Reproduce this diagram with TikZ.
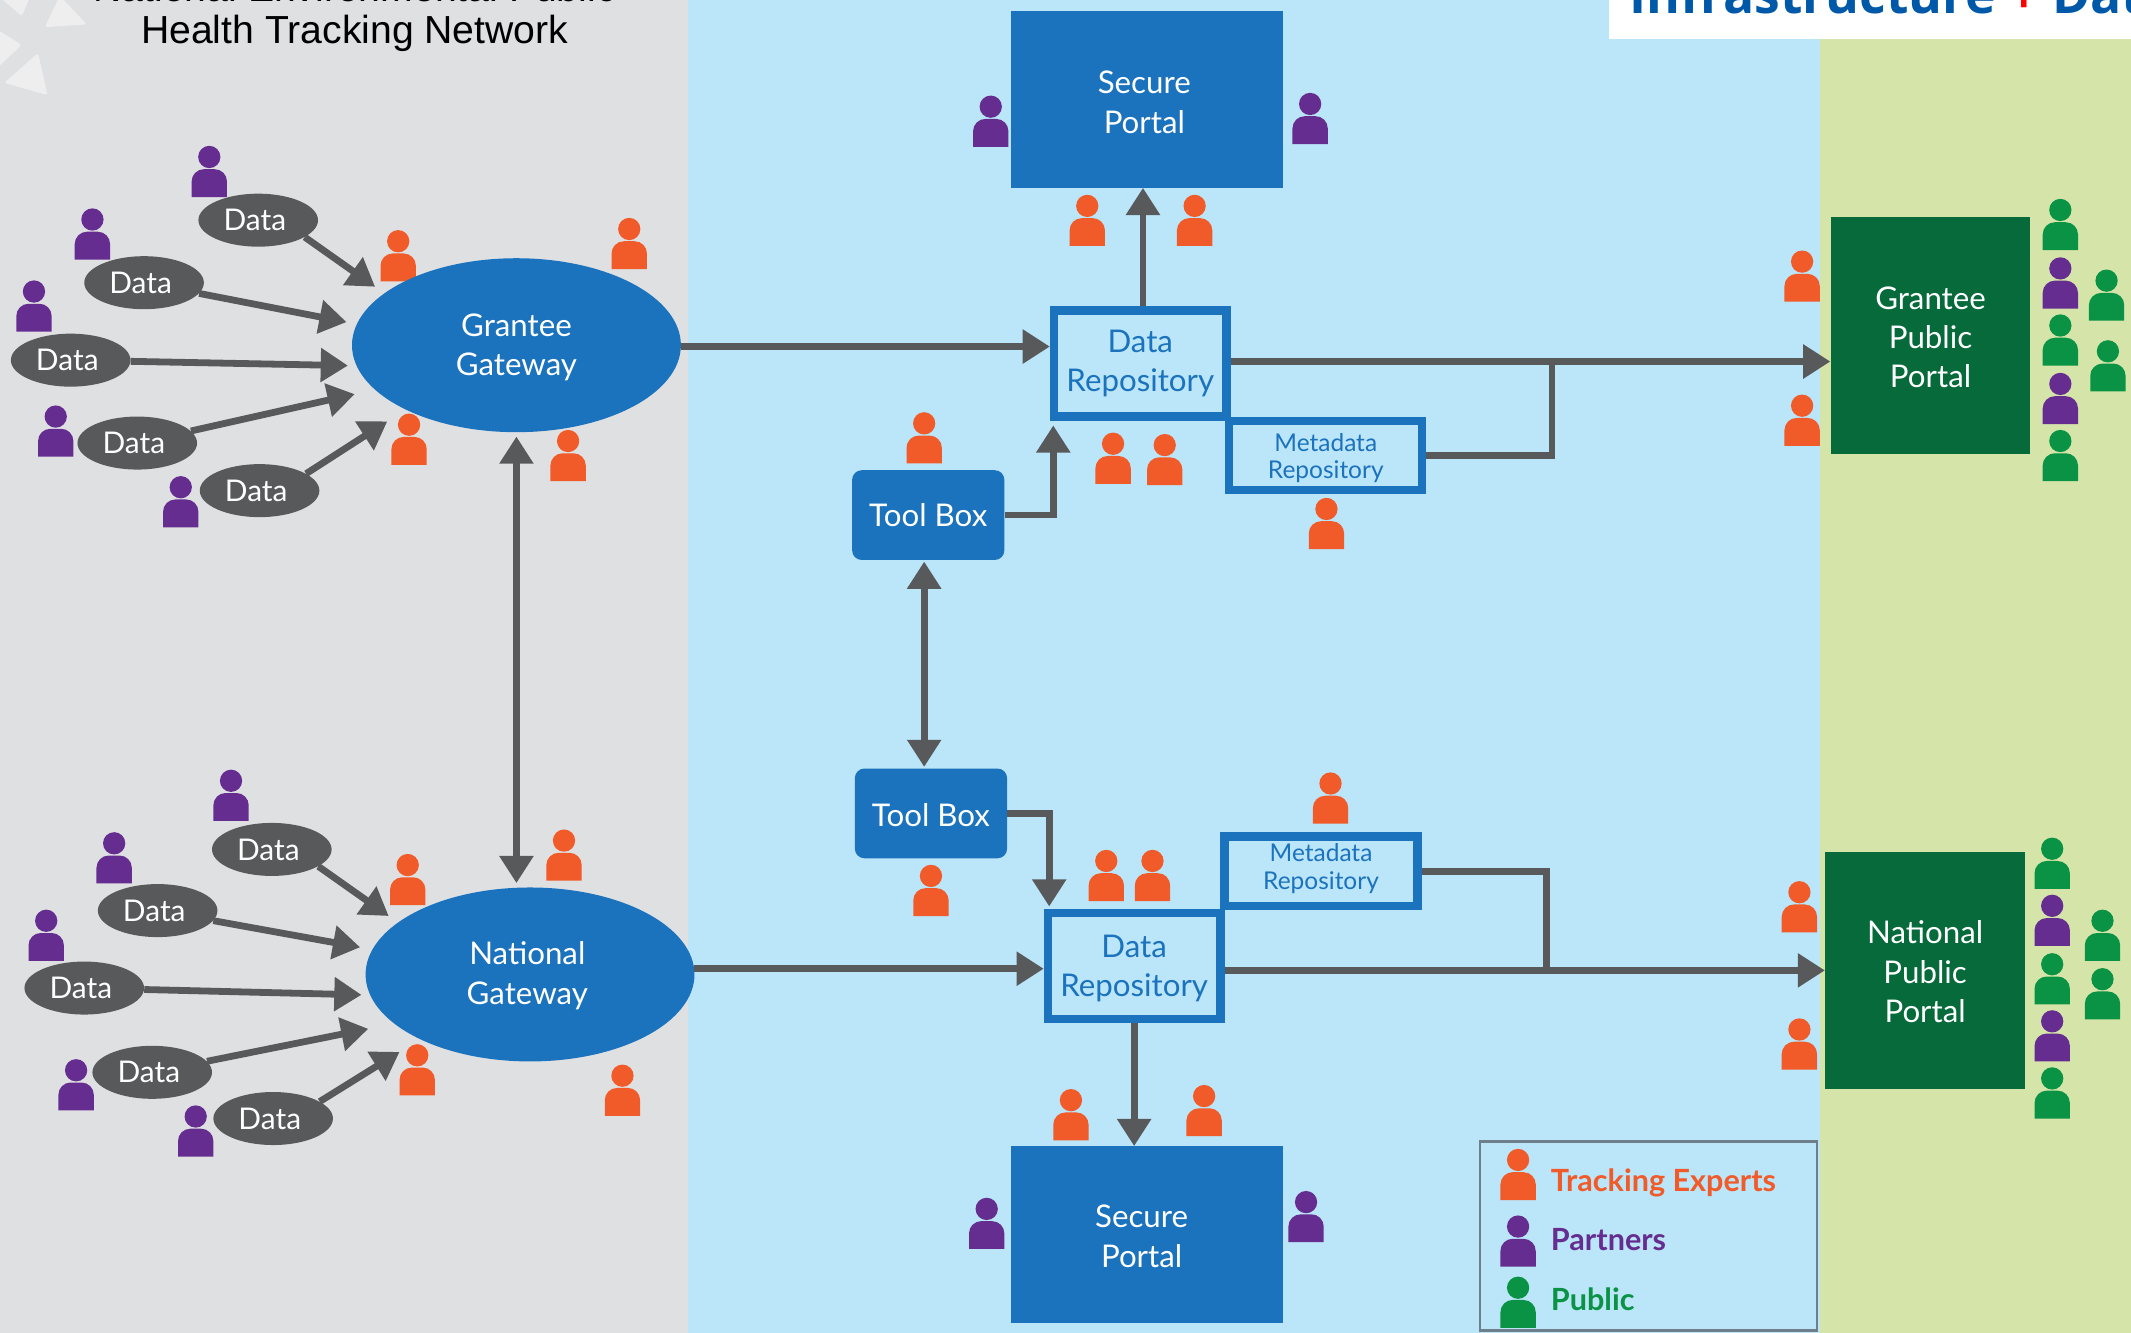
\documentclass[tikz,border=0pt]{standalone}
\usepackage{fontspec}
\setmainfont{Lato}
\newfontfamily\titlefont{Liberation Sans}
\newfontfamily\bannerfont{Open Sans}
\usetikzlibrary{arrows.meta,shapes.geometric}
\definecolor{bggrey}{HTML}{DFE0E2}
\definecolor{bgblue}{HTML}{BBE5F9}
\definecolor{bggreen}{HTML}{D5E5A9}
\definecolor{logogrey}{HTML}{EEEEEF}
\definecolor{gblue}{HTML}{1B72BD}
\definecolor{dgreen}{HTML}{066A3B}
\definecolor{arrgrey}{HTML}{58595B}
\definecolor{org}{HTML}{F15A29}
\definecolor{pur}{HTML}{662D91}
\definecolor{grn}{HTML}{0A9344}
\definecolor{navy}{HTML}{0059A8}
\definecolor{legline}{HTML}{6F7F8A}
\newcommand\dnrule[1]{\rule{0pt}{#1pt}}
\tikzset{
  pics/person/.style={code={
    \fill[#1] (0,-29.5) circle (8.2);
    \fill[#1] (-13,0) {[rounded corners=9] -- (-13,-20.5) -- (13,-20.5)} -- (13,0) -- cycle;
  }},
  gateway/.style={ellipse,fill=gblue,text=white,minimum width=242pt,minimum height=128pt,inner sep=0pt,align=center,font=\fontsize{23}{29}\selectfont},
  datanode/.style={ellipse,fill=arrgrey,text=white,minimum width=88pt,minimum height=39pt,inner sep=0pt,font=\fontsize{22}{26}\selectfont,execute at begin node={\hspace*{-5pt}}},
  portal/.style={rectangle,fill=gblue,text=white,minimum width=200pt,minimum height=130pt,inner sep=0pt,align=center,font=\fontsize{23}{29}\selectfont},
  toolnode/.style={rectangle,rounded corners=7pt,fill=gblue,text=white,minimum width=112pt,minimum height=66pt,inner sep=0pt,font=\fontsize{23}{28}\selectfont},
  repo/.style={rectangle,draw=gblue,line width=6pt,fill=bgblue,text=gblue,minimum width=127pt,minimum height=78pt,inner sep=0pt,align=center,font=\fontsize{23}{29}\selectfont},
  meta/.style={rectangle,draw=gblue,line width=6pt,fill=bgblue,text=gblue,minimum width=142pt,minimum height=51pt,inner sep=0pt,align=center,font=\fontsize{18}{20}\selectfont},
  pubportal/.style={rectangle,fill=dgreen,text=white,minimum width=147pt,minimum height=174pt,inner sep=0pt,align=center,font=\fontsize{23}{29}\selectfont},
  arr/.style={draw=arrgrey,line width=5pt,-{Triangle[length=20pt,width=24pt]}},
  dblarr/.style={draw=arrgrey,line width=5pt,{Triangle[length=20pt,width=24pt]}-{Triangle[length=20pt,width=24pt]}},
  plainline/.style={draw=arrgrey,line width=5pt},
  legtext/.style={anchor=west,inner sep=0pt,font=\fontsize{22.5}{26}\selectfont\bfseries}
}
\begin{document}
\begin{tikzpicture}[x=1pt,y=-1pt]
\clip (0,0) rectangle (1568,980.8);
\useasboundingbox (0,0) rectangle (1568,980.8);
% backgrounds
\fill[bggrey] (0,0) rectangle (506,981);
\fill[bgblue] (506,0) rectangle (1339,981);
\fill[bggreen] (1339,0) rectangle (1568,981);
\fill[white] (1184,0) rectangle (1568,29);
% faint logo
\fill[logogrey,rounded corners=2pt] (33,20) -- (44,-3) -- (64,18) -- cycle;
\fill[logogrey,rounded corners=2pt] (3,61) -- (28,39) -- (35,70) -- cycle;
\fill[logogrey,rounded corners=2pt] (-8,18) -- (16,33) -- (-2,50) -- cycle;
\fill[logogrey,rounded corners=2pt] (0,-2) -- (22,-2) -- (16,12) -- cycle;
% titles
\node[inner sep=0pt,font=\titlefont\fontsize{28.8}{33}\selectfont] (title1) at (261,-9) {National Environmental Public};
\node[inner sep=0pt,font=\titlefont\fontsize{28.8}{33}\selectfont] (title2) at (261,24.5) {Health Tracking Network};
\node[anchor=base west,inner sep=0pt,text=navy,font=\bannerfont\fontsize{38}{44}\selectfont\bfseries] (banner) at (1199,10) {Infrastructure \textcolor{red}{+} Data};
% people
\foreach \x/\y in {154/145,68/191,25/244,41/336,133/388,729/108,964/106,1516/227,1516/312,170/604,84/650,34/707,56/817,144/851,1510/696,1510/781,726/919,961/914,1117/932}
  \pic at (\x,\y) {person=pur};
\foreach \x/\y in {293/207,463/198,301/342,418/354,800/181,879/181,680/341,819/356,857/357,976/404,1326/222,1326/328,300/666,415/648,307/806,458/821,685/674,814/663,848/663,979/606,1324/686,1324/787,788/839,886/836,1117/883}
  \pic at (\x,\y) {person=org};
\foreach \x/\y in {1516/184,1516/269,1516/354,1550/236,1551/288,1510/654,1510/739,1510/823,1547/707,1547/750,1117/977}
  \pic at (\x,\y) {person=grn};
% gateways
\node[gateway] (gg) at (380,254) {\dnrule{20}Grantee\\Gateway};
\node[gateway] (ng) at (390,717) {\dnrule{19}\hspace*{-4pt}National\\\hspace*{-4pt}Gateway};
% data
\node[datanode] (a1) at (190,162) {Data};
\node[datanode] (a2) at (106,208) {Data};
\node[datanode] (a3) at (52,265) {Data};
\node[datanode] (a4) at (101,326) {Data};
\node[datanode] (a5) at (191,361) {Data};
\node[datanode] (b1) at (200,625) {Data};
\node[datanode] (b2) at (116,670) {Data};
\node[datanode] (b3) at (62,727) {Data};
\node[datanode] (b4) at (112,789) {Data};
\node[datanode] (b5) at (201,823) {Data};
% portals
\node[portal] (sp1) at (844,73) {\dnrule{21}\hspace*{-4pt}Secure\\\hspace*{-4pt}Portal};
\node[portal] (sp2) at (844,908.5) {\dnrule{19}\hspace*{-8pt}Secure\\\hspace*{-8pt}Portal};
\node[toolnode] (tb1) at (683,379) {Tool Box};
\node[toolnode] (tb2) at (685,598.5) {\dnrule{20}Tool Box};
\node[repo] (dr1) at (839,267.5) {Data\\Repository};
\node[repo] (dr2) at (834.5,711) {\dnrule{20}Data\\Repository};
\node[meta] (m1) at (975.5,335) {\dnrule{17.5}Metadata\\Repository};
\node[meta] (m2) at (972,641) {Metadata\\Repository\rule[-7pt]{0pt}{0pt}};
\node[pubportal] (gp) at (1420.5,247) {\dnrule{19}Grantee\\Public\\Portal};
\node[pubportal] (np) at (1416.5,714) {\dnrule{19}National\\Public\\Portal};
% legend
\node[draw=legline,line width=2pt,minimum width=248pt,minimum height=139pt,inner sep=0pt] (leg) at (1213,909.5) {};
\node[legtext,text=org] (l1) at (1141,870) {Tracking Experts};
\node[legtext,text=pur] (l2) at (1141,912) {Partners};
\node[legtext,text=grn] (l3) at (1141,956) {Public};
% free ends
\coordinate (ea1) at (276,211);
\coordinate (ea2) at (255,237);
\coordinate (ea3) at (256,269);
\coordinate (ea4) at (261,290);
\coordinate (ea5) at (285,310);
\coordinate (eb1) at (286,674);
\coordinate (eb2) at (265,697);
\coordinate (eb3) at (266,732);
\coordinate (eb4) at (271,757);
\coordinate (eb5) at (294,774);
\coordinate (t1) at (775,313);
\coordinate (t2) at (772,667);
\coordinate (j1) at (1142,266);
\coordinate (j2) at (1138,714);
% connectors
\draw[arr] (a1.-20) -- (ea1);
\draw[arr] (a2) -- (ea2);
\draw[arr] (a3) -- (ea3);
\draw[arr] (a4) -- (ea4);
\draw[arr] (a5.20) -- (ea5);
\draw[arr] (b1.-20) -- (eb1);
\draw[arr] (b2) -- (eb2);
\draw[arr] (b3) -- (eb3);
\draw[arr] (b4) -- (eb4);
\draw[arr] (b5.20) -- (eb5);
\draw[arr] ([yshift=-1pt]gg.east) -- ([yshift=-1pt]gg.east -| dr1.west);
\draw[arr] (ng.2) -- (ng.2 -| dr2.west);
\draw[arr] ([yshift=1.5pt]dr1.east) -- ([yshift=1.5pt]dr1.east -| gp.west);
\draw[arr] (dr2.east |- np.west) -- (np.west);
\draw[arr] ([xshift=2pt]dr1.north) -- ([xshift=2pt]dr1.north |- sp1.south);
\draw[arr] (dr2.south) -- (dr2.south |- sp2.north);
\draw[dblarr,shorten <=3pt,shorten >=3pt] (gg.south) -- (gg.south |- ng.north);
\draw[dblarr,shorten <=1pt,shorten >=1pt] ([xshift=-3pt]tb1.south) -- ([xshift=-3pt]tb1.south |- tb2.north);
\draw[arr] (tb1.east) -| (t1);
\draw[arr] (tb2.east) -| (t2);
\draw[plainline] (m1.east) -| (j1);
\draw[plainline] (m2.east) -| (j2);
\end{tikzpicture}
\end{document}
